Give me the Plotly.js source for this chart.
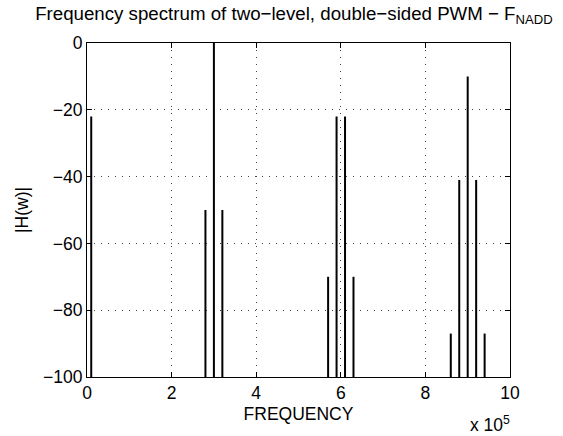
<!DOCTYPE html>
<html>
<head>
<meta charset="utf-8">
<script src="https://cdn.plot.ly/plotly-3.0.1.min.js"></script>
<style>html,body{margin:0;padding:0;background:#fff;}#chart{width:563px;height:436px;}</style>
</head>
<body>
<div id="chart"></div>
<script>
// Frequencies (Hz) and magnitudes (dB) of the spectral lines
const frequencies = [10000, 280000, 300000, 320000, 570000, 590000, 610000, 630000, 860000, 880000, 900000, 920000, 940000];
const magnitudes  = [-22, -50, 0, -50, -70, -22, -22, -70, -87, -41, -10, -41, -87];
const baseLevel = -100;
const xTickVals = [0, 200000, 400000, 600000, 800000, 1000000];
const xTickText = ['0', '2', '4', '6', '8', '10'];
const yTickVals = [-100, -80, -60, -40, -20, 0];

const xs = [], ys = [];
frequencies.forEach((f, i) => { xs.push(f, f, null); ys.push(baseLevel, magnitudes[i], null); });

const fam = 'Liberation Sans, Arial, Helvetica, sans-serif';
const font = {family: fam, color: '#000', size: 17.5};

const trace = {
  type: 'scatter', mode: 'lines', x: xs, y: ys,
  line: {color: '#000', width: 2}, hoverinfo: 'skip', showlegend: false
};

const layout = {
  width: 563, height: 436,
  margin: {l: 87, r: 53, t: 43, b: 59},
  paper_bgcolor: '#fff', plot_bgcolor: '#fff',
  font: font,
  title: {text: 'Frequency spectrum of two−level, double−sided PWM − F<sub>NADD</sub>',
          font: {family: fam, size: 18.7, color: '#000'},
          x: 0.522, xanchor: 'center', y: 0.968, yanchor: 'middle'},
  xaxis: {range: [0, 1000000], tickvals: xTickVals, ticktext: xTickText,
          showline: true, mirror: 'ticks', linecolor: '#000', linewidth: 1,
          ticks: 'inside', ticklen: 5, tickcolor: '#000',
          showgrid: true, gridcolor: '#444', griddash: '1px,6px', gridwidth: 1,
          zeroline: false, tickfont: font, automargin: false,
          title: {text: 'FREQUENCY', font: font, standoff: 5}},
  yaxis: {range: [-100, 0], tickvals: yTickVals,
          showline: true, mirror: 'ticks', linecolor: '#000', linewidth: 1,
          ticks: 'inside', ticklen: 5, tickcolor: '#000',
          showgrid: true, gridcolor: '#444', griddash: '1px,6px', gridwidth: 1,
          zeroline: false, tickfont: font, automargin: false,
          title: {text: '|H(w)|', font: font, standoff: 9}},
  annotations: [{
    text: 'x 10<sup>5</sup>', xref: 'paper', yref: 'paper', x: 0.9, y: -0.141,
    xanchor: 'left', yanchor: 'middle', showarrow: false, font: font
  }]
};

Plotly.newPlot('chart', [trace], layout, {staticPlot: true, displayModeBar: false});
</script>
</body>
</html>
